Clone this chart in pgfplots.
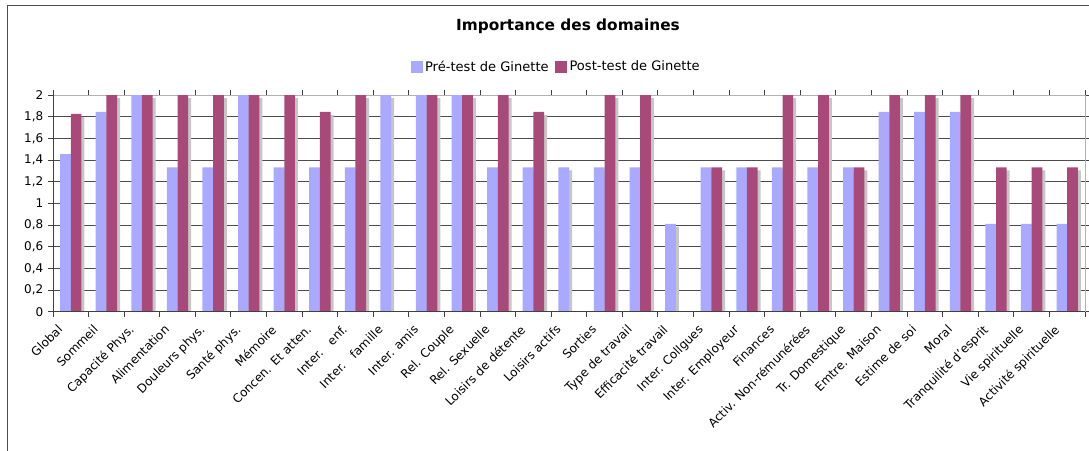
\documentclass[border=0pt]{standalone}
\usepackage{fontspec}
\setmainfont{DejaVu Sans}
\usepackage{pgfplots}
\pgfplotsset{compat=1.18}
\definecolor{preblue}{HTML}{A9AAFF}
\definecolor{postmag}{HTML}{A8497A}
\definecolor{shadowgray}{HTML}{C6C6C6}
\begin{document}
\begin{tikzpicture}
\begin{scope}[x=0.75pt,y=-0.75pt]
\draw[black!70, line width=0.75pt] (7,455) -- (7,5) -- (1095,5);
\node[font=\bfseries\fontsize{11.5}{13}\selectfont] at (568,26) {Importance des domaines};
\coordinate (O) at (53,311.7);
\end{scope}
\begin{axis}[
  at={(O)}, anchor=south west, scale only axis,
  width=774pt, height=162.5pt,
  xmin=0.5, xmax=29.5, ymin=0, ymax=2,
  ytick={0,0.2,0.4,0.6,0.8,1,1.2,1.4,1.6,1.8,2},
  yticklabel style={/pgf/number format/.cd, use comma, fixed, precision=1, assume math mode=true},
  ymajorgrids, grid style={black!70, line width=0.75pt},
  xtick={0.5,1.5,...,29.5}, xticklabels={},
  extra x ticks={1,2,...,29},
  extra x tick labels={Global,Sommeil,Capacité Phys.,Alimentation,Douleurs phys.,Santé phys.,Mémoire,Concen. Et atten.,Inter.\ \ \ enf.,Inter.\ \ \ famille,Inter. amis,Rel. Couple,Rel. Sexuelle,Loisirs de détente,Loisirs actifs,Sorties,Type de travail,Efficacité travail,Inter. Collgues,Inter. Employeur,Finances,Activ. Non-rémunérées,Tr. Domestique,Emtre. Maison,Estime de soi,Moral,Tranquilité d'esprit,Vie spirituelle,Activité spirituelle},
  extra x tick style={major tick length=0pt, grid=none},
  xticklabel style={rotate=45, anchor=north east, inner sep=1pt, xshift=-12.75pt, yshift=2.1pt},
  tick align=outside, major tick length=3.75pt,
  tick style={black!75, line width=0.75pt},
  axis line style={draw=gray!60, line width=0.75pt},
  ticklabel style={font=\fontsize{9}{11}\selectfont},
  ybar, bar width=0.3,
  legend columns=2,
  legend style={at={(0.488,1.13)}, anchor=center, draw=none, fill=none,
    font=\fontsize{9.8}{12}\selectfont,
    /tikz/every even column/.append style={column sep=3pt}},
]
\addplot[fill=preblue, draw=none, bar shift=-0.15, forget plot,
  preaction={fill=shadowgray, transform canvas={xshift=2.25pt,yshift=-2.25pt}}]
coordinates {(1,1.455)(2,1.845)(3,2)(4,1.333)(5,1.333)(6,2)(7,1.333)(8,1.333)(9,1.333)(10,2)(11,2)(12,2)(13,1.333)(14,1.333)(15,1.333)(16,1.333)(17,1.333)(18,0.81)(19,1.333)(20,1.333)(21,1.333)(22,1.333)(23,1.333)(24,1.845)(25,1.845)(26,1.845)(27,0.81)(28,0.81)(29,0.81)};
\addplot[fill=postmag, draw=none, bar shift=0.15, forget plot,
  preaction={fill=shadowgray, transform canvas={xshift=2.25pt,yshift=-2.25pt}}]
coordinates {(1,1.825)(2,2)(3,2)(4,2)(5,2)(6,2)(7,2)(8,1.845)(9,2)(11,2)(12,2)(13,2)(14,1.845)(16,2)(17,2)(19,1.333)(20,1.333)(21,2)(22,2)(23,1.333)(24,2)(25,2)(26,2)(27,1.333)(28,1.333)(29,1.333)};
\addlegendimage{legend image code/.code={\fill[preblue] (0pt,-4.1pt) rectangle (8.25pt,4.1pt);}}
\addlegendentry{Pré-test de Ginette}
\addlegendimage{legend image code/.code={\fill[postmag] (0pt,-4.1pt) rectangle (8.25pt,4.1pt);}}
\addlegendentry{Post-test de Ginette}
\draw[black!75, line width=0.75pt] (rel axis cs:0,1) -- (rel axis cs:0,0) -- (rel axis cs:1,0);
\end{axis}
\pgfresetboundingbox
\begin{scope}[x=0.75pt,y=-0.75pt]
\path[use as bounding box] (0,0) rectangle (1089,450);
\end{scope}
\end{tikzpicture}
\end{document}
